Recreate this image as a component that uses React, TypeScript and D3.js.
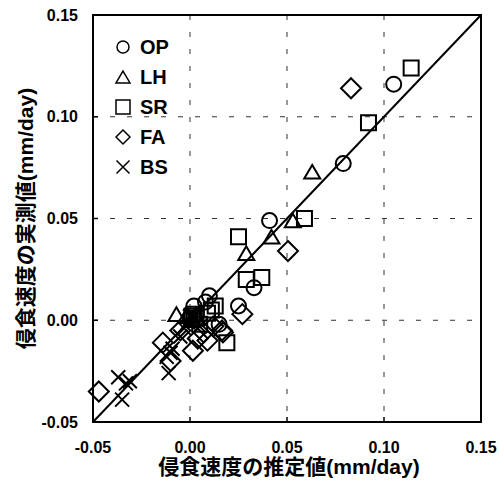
import React from "react";
import * as d3 from "d3";

// Erosion-rate observations: [estimated, measured] (mm/day)
const seriesNames = ["OP", "LH", "SR", "FA", "BS"];

const opPoints: [number, number][] = [
  [0.105, 0.116], [0.079, 0.077], [0.041, 0.049], [0.033, 0.016],
  [0.025, 0.007], [0.010, 0.012], [0.002, 0.007], [0.008, 0.009],
  [0.000, 0.001], [0.015, -0.002],
];
const lhPoints: [number, number][] = [
  [0.063, 0.073], [0.053, 0.049], [0.042, 0.041], [0.029, 0.033],
  [-0.007, 0.003], [-0.002, 0.002], [0.003, 0.003], [0.001, 0.000],
];
const srPoints: [number, number][] = [
  [0.114, 0.124], [0.092, 0.097], [0.059, 0.050], [0.025, 0.041],
  [0.029, 0.020], [0.037, 0.021], [0.009, 0.0035], [0.011, 0.005],
  [0.013, 0.007], [0.001, 0.002], [0.003, 0.001], [0.002, 0.003],
  [0.019, -0.011], [0.005, -0.002],
];
const faPoints: [number, number][] = [
  [0.083, 0.114], [0.0505, 0.034], [0.027, 0.003], [-0.047, -0.035],
  [-0.014, -0.011], [-0.010, -0.020], [0.0015, -0.015], [0.0165, -0.005],
  [-0.005, -0.005], [0.007, -0.006], [0.009, -0.010], [0.012, -0.003],
  [0.004, -0.009], [0.017, -0.006],
];
const bsPoints: [number, number][] = [
  [-0.037, -0.028], [-0.031, -0.030], [-0.033, -0.031], [-0.035, -0.039],
  [-0.011, -0.026], [-0.010, -0.016], [-0.009, -0.014], [-0.005, -0.008],
  [-0.001, -0.001], [0.000, 0.002], [0.001, 0.003], [-0.003, -0.004],
  [0.002, 0.001], [0.005, -0.003], [-0.012, -0.018],
];

const tickValues = [-0.05, 0.0, 0.05, 0.1, 0.15];
const gridValues = [0.0, 0.05, 0.1];
const xTitle = "侵食速度の推定値(mm/day)";
const yTitle = "侵食速度の実測値(mm/day)";

const W = 499;
const H = 483;
const left = 93;
const right = 481;
const top = 15;
const bottom = 422;

const x = d3.scaleLinear().domain([-0.05, 0.15]).range([left, right]);
const y = d3.scaleLinear().domain([-0.05, 0.15]).range([bottom, top]);

const FONT = "'Liberation Sans', Arial, 'Noto Sans CJK JP', sans-serif";
// plain hyphen for negatives, two decimals
const fmtTick = (v: number) => d3.format(".2f")(v).replace("\u2212", "-");

type Kind = "circle" | "triangle" | "square" | "diamond" | "cross";

function markerPath(kind: Kind, s: number): string {
  // s = overall marker width in px
  const h = s / 2;
  const p = d3.path();
  switch (kind) {
    case "circle":
      p.arc(0, 0, h, 0, Math.PI * 2);
      p.closePath();
      break;
    case "triangle": {
      const th = s * 0.85;
      p.moveTo(0, -th / 2);
      p.lineTo(h, th / 2);
      p.lineTo(-h, th / 2);
      p.closePath();
      break;
    }
    case "square":
      p.rect(-h, -h, s, s);
      break;
    case "diamond":
      p.moveTo(0, -h);
      p.lineTo(h, 0);
      p.lineTo(0, h);
      p.lineTo(-h, 0);
      p.closePath();
      break;
    case "cross":
      p.moveTo(-h, -h);
      p.lineTo(h, h);
      p.moveTo(h, -h);
      p.lineTo(-h, h);
      break;
  }
  return p.toString();
}

const series: { name: string; kind: Kind; size: number; data: [number, number][] }[] = [
  { name: seriesNames[0], kind: "circle", size: 15, data: opPoints },
  { name: seriesNames[1], kind: "triangle", size: 16, data: lhPoints },
  { name: seriesNames[2], kind: "square", size: 15, data: srPoints },
  { name: seriesNames[3], kind: "diamond", size: 20, data: faPoints },
  { name: seriesNames[4], kind: "cross", size: 14, data: bsPoints },
];

const legendSizes: Record<Kind, number> = {
  circle: 12,
  triangle: 14,
  square: 14,
  diamond: 14,
  cross: 13,
};

export default function App() {
  return (
    <svg
      width={W}
      height={H}
      style={{ position: "absolute", left: 0, top: 0, background: "#fff" }}
      fontFamily={FONT}
    >
      <rect x={0} y={0} width={W} height={H} fill="#fff" />

      {/* dashed gridlines */}
      {gridValues.map((v) => (
        <g key={"g" + v} stroke="#333" strokeWidth={1} strokeDasharray="5,12">
          <line x1={x(v)} x2={x(v)} y1={top} y2={bottom} />
          <line x1={left} x2={right} y1={y(v)} y2={y(v)} />
        </g>
      ))}

      {/* 1:1 reference line */}
      <line
        x1={x(-0.05)}
        y1={y(-0.05)}
        x2={x(0.15)}
        y2={y(0.15)}
        stroke="#000"
        strokeWidth={2}
      />

      {/* data markers */}
      {series.map((s) => (
        <g key={s.name}>
          {s.data.map((d, i) => (
            <path
              key={i}
              d={markerPath(s.kind, s.size)}
              transform={`translate(${x(d[0])},${y(d[1])})`}
              fill="none"
              stroke="#000"
              strokeWidth={2}
            />
          ))}
        </g>
      ))}

      {/* frame and ticks */}
      <rect
        x={left}
        y={top}
        width={right - left}
        height={bottom - top}
        fill="none"
        stroke="#000"
        strokeWidth={2}
      />
      {tickValues.map((v) => (
        <g key={"t" + v} stroke="#000" strokeWidth={1.5}>
          <line x1={x(v)} x2={x(v)} y1={bottom} y2={bottom - 5} />
          <line x1={left} x2={left + 5} y1={y(v)} y2={y(v)} />
        </g>
      ))}

      {/* tick labels */}
      {tickValues.map((v) => (
        <text
          key={"xl" + v}
          x={x(v)}
          y={bottom + 31}
          textAnchor="middle"
          fontSize={16}
          fontWeight="bold"
        >
          {fmtTick(v)}
        </text>
      ))}
      {tickValues.map((v) => (
        <text
          key={"yl" + v}
          x={left - 15}
          y={y(v)}
          dy="0.35em"
          textAnchor="end"
          fontSize={16}
          fontWeight="bold"
        >
          {fmtTick(v)}
        </text>
      ))}

      {/* axis titles */}
      <text
        x={(left + right) / 2 + 2}
        y={474}
        textAnchor="middle"
        fontSize={21}
        fontWeight="bold"
      >
        {xTitle}
      </text>
      <text
        transform={`translate(33,${(top + bottom) / 2}) rotate(-90)`}
        textAnchor="middle"
        fontSize={21}
        fontWeight="bold"
      >
        {yTitle}
      </text>

      {/* legend */}
      {series.map((s, i) => (
        <g key={"lg" + s.name} transform={`translate(123,${47 + i * 30})`}>
          <path
            d={markerPath(s.kind, legendSizes[s.kind])}
            fill="none"
            stroke="#000"
            strokeWidth={1.5}
          />
          <text x={17} y={0} dy="0.36em" fontSize={20} fontWeight="bold">
            {s.name}
          </text>
        </g>
      ))}
    </svg>
  );
}
